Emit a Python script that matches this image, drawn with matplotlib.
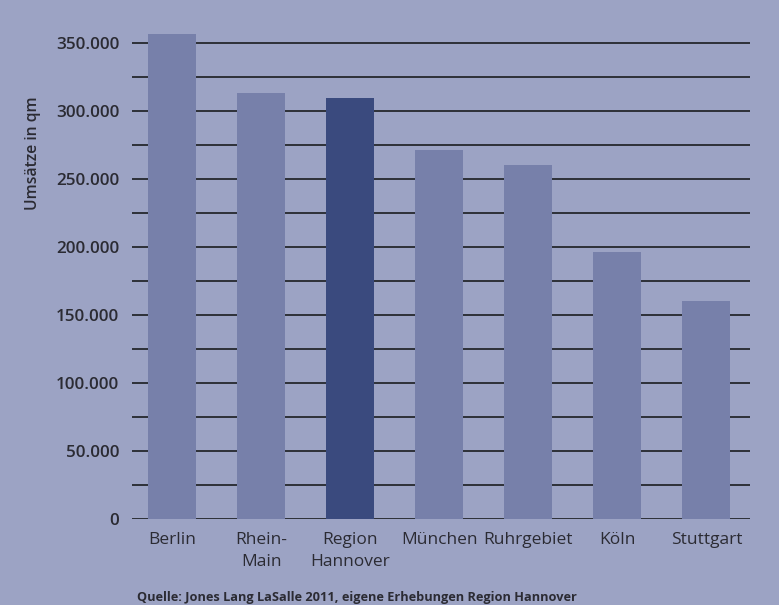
import matplotlib.pyplot as plt
import numpy as np

# Umsätze (qm) je Region
regions = ['Berlin', 'Rhein-\nMain', 'Region\nHannover', 'München', 'Ruhrgebiet', 'Köln', 'Stuttgart']
umsatz = [356000, 313000, 309000, 271000, 260000, 196000, 160000]
highlight = 'Region\nHannover'
y_ticks = [0, 50000, 100000, 150000, 200000, 250000, 300000, 350000]
y_tick_labels = ['0', '50.000', '100.000', '150.000', '200.000', '250.000', '300.000', '350.000']

bg = '#9ca3c4'
bar_col = '#7780aa'
hl_col = '#3a4a7e'
text_col = '#2b2b33'

plt.rcParams['font.family'] = ['Open Sans', 'DejaVu Sans']

fig = plt.figure(figsize=(7.79, 6.05), dpi=100, facecolor=bg)
ax = fig.add_axes([132 / 779, 86 / 605, (750 - 132) / 779, (519 - 29) / 605])
ax.set_facecolor(bg)

x = np.arange(len(regions))
colors = [hl_col if r == highlight else bar_col for r in regions]

# gridlines every 25.000 under the bars
for g in np.arange(0, 350001, 25000):
    ax.axhline(g, color='#2e3038', lw=1.4, zorder=1)

ax.bar(x, umsatz, width=0.54, color=colors, zorder=2)

ax.set_xlim(-0.45, 6.49)
ax.set_ylim(0, 360000)
ax.set_yticks(y_ticks)
ax.set_yticklabels(y_tick_labels, fontsize=12.3, color=text_col, fontweight='semibold')
ax.set_xticks(x)
ax.set_xticklabels(regions, fontsize=12.5, color=text_col, linespacing=1.5)
ax.tick_params(axis='both', length=0)
ax.tick_params(axis='y', pad=9)
ax.tick_params(axis='x', pad=9)
for s in ax.spines.values():
    s.set_visible(False)

fig.text(33 / 779, 1 - 153 / 605, 'Umsätze in qm', rotation=90, fontsize=11.3,
         color=text_col, fontweight='semibold', ha='center', va='center')
fig.text(137 / 779, 1 - 597 / 605, 'Quelle: Jones Lang LaSalle 2011, eigene Erhebungen Region Hannover',
         fontsize=9.2, fontweight='bold', color=text_col, ha='left', va='center')

fig.savefig('out.png', dpi=100, facecolor=bg)
